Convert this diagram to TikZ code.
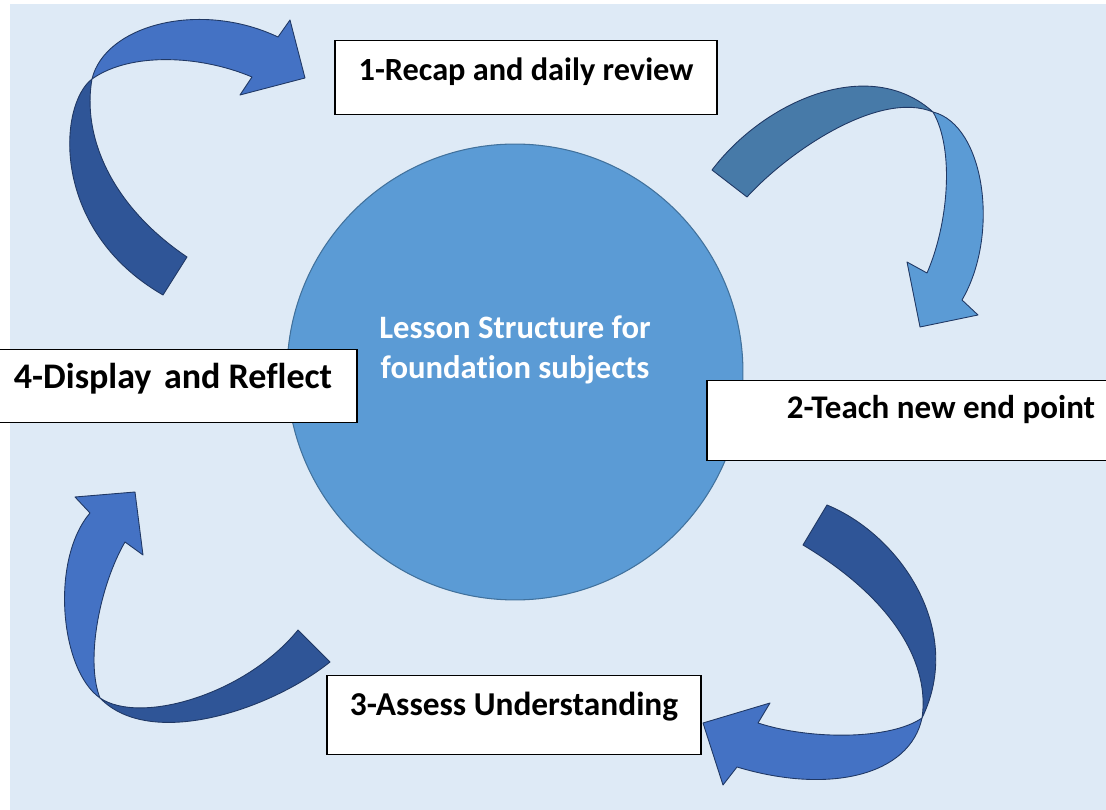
\documentclass[tikz,border=0pt]{standalone}
\usepackage{fontspec}
\setmainfont{Carlito}[Ligatures={NoCommon,NoContextual}]
\usepackage{tikz}
\usetikzlibrary{positioning}
\definecolor{lsnback}{RGB}{222,234,246}
\definecolor{lsncircle}{RGB}{91,155,213}
\definecolor{lsnrim}{RGB}{65,113,156}
\definecolor{lsndark}{RGB}{47,85,151}
\definecolor{lsnmid}{RGB}{68,114,196}
\definecolor{lsnsteel}{RGB}{71,122,168}
\definecolor{lsnedge}{RGB}{32,56,100}

\begin{document}
\begin{tikzpicture}[x=0.02cm, y=-0.02cm,
    stagebox/.style={rectangle, draw=black, line width=0.8pt, fill=white, inner sep=0pt, anchor=north, font=\fontsize{#1}{22}\selectfont\bfseries},
    stagebox/.default=18.5,
    hub/.style={circle, fill=lsncircle, draw=lsnrim, line width=0.6pt, minimum size=9.12cm, inner sep=0pt},
    band/.style={draw=lsnedge, line width=0.5pt, line join=round}
]

\useasboundingbox (0,0) rectangle (1106,810);
\fill[lsnback] (10,4) rectangle (1106,810);

\node[hub] (hub) at (515,372) {};
\node[text=white, align=center, font=\fontsize{18.6}{23.2}\selectfont\bfseries] (title) at (515,350) {Lesson Structure for\\foundation subjects};

\draw[band, fill=lsndark] (92,79) .. controls (58,105) and (50,230) .. (163,295) -- (187,257) .. controls (110,205) and (82,135) .. (92,79) -- cycle;
\draw[band, fill=lsnmid] (92,79) .. controls (105,25) and (200,0) .. (278,37) -- (290,20) -- (305,78) -- (240,95) -- (252,77) .. controls (200,55) and (130,52) .. (92,79) -- cycle;

\draw[band, fill=lsnsteel] (712,170) .. controls (765,100) and (870,55) .. (933,112) .. controls (880,90) and (790,150) .. (747,197) -- cycle;
\draw[band, fill=lsncircle] (933,112) .. controls (985,125) and (1000,235) .. (962,300) -- (978,315) -- (920,327) -- (907,262) -- (927,273) .. controls (948,225) and (955,150) .. (933,112) -- cycle;

\draw[band, fill=lsndark] (827,505) .. controls (900,535) and (965,630) .. (922,718) .. controls (930,665) and (895,600) .. (803,545) -- cycle;
\draw[band, fill=lsnmid] (922,718) .. controls (910,775) and (830,795) .. (737,767) -- (723,785) -- (703,723) -- (770,703) -- (758,723) .. controls (810,740) and (890,740) .. (922,718) -- cycle;

\draw[band, fill=lsndark] (298,630) .. controls (245,695) and (140,725) .. (100,698) .. controls (150,750) and (270,710) .. (330,662) -- cycle;
\draw[band, fill=lsnmid] (100,698) .. controls (60,670) and (50,560) .. (90,513) -- (75,497) -- (135,492) -- (143,555) -- (125,542) .. controls (100,585) and (85,660) .. (100,698) -- cycle;

\node[stagebox=18.4, minimum width=7.64cm, text height=0.8cm, text depth=0.68cm] (recap) at (526,40) {1-Recap and daily review};
\node[stagebox=18.8, minimum width=9.36cm, text height=0.76cm, text depth=0.84cm] (teach) at (941,380) {2-Teach new end point};
\node[stagebox=19, minimum width=7.48cm, text height=0.8cm, text depth=0.78cm] (assess) at (514,675) {3-Assess Understanding};
\node[stagebox=20.5, minimum width=7.36cm, text height=0.78cm, text depth=0.68cm] (display) at (173,349) {4-Display\kern0.12em{} and Reflect};

\end{tikzpicture}
\end{document}
